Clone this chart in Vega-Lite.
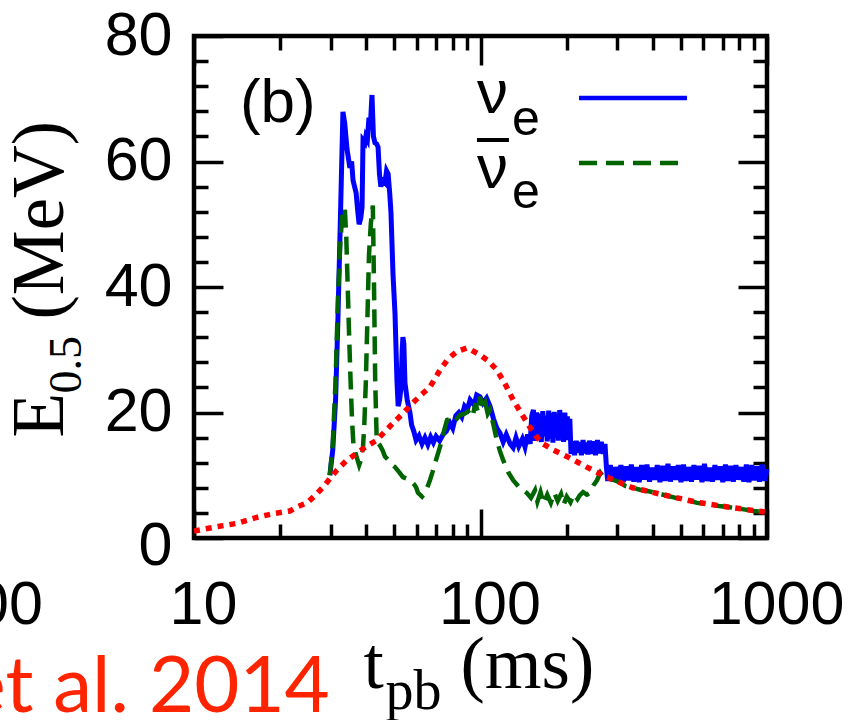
{
  "$schema": "https://vega.github.io/schema/vega-lite/v6.json",
  "width": 573,
  "height": 502,
  "autosize": {"type": "none"},
  "padding": {"left": 194, "top": 36, "right": 82, "bottom": 182},
  "background": "white",
  "config": {
    "view": {"stroke": "black", "strokeWidth": 4.5},
    "axis": {
      "domain": false, "grid": false, "tickColor": "black", "tickWidth": 3.5,
      "labelFont": "Liberation Sans", "labelFontSize": 61, "labelColor": "black",
      "titleFont": "Liberation Serif", "titleFontWeight": "normal", "titleColor": "black",
      "labelFlush": false, "labelOverlap": false, "labelBound": false
    }
  },
  "datasets": {
    "nue": [
      {"t": 29.8, "E": 10.0}, {"t": 30.5, "E": 14}, {"t": 31.2, "E": 22}, {"t": 31.8, "E": 35}, {"t": 32.4, "E": 50},
      {"t": 33.1, "E": 67.9}, {"t": 33.6, "E": 66}, {"t": 34.2, "E": 62}, {"t": 35.0, "E": 59}, {"t": 35.5, "E": 60},
      {"t": 35.9, "E": 57}, {"t": 36.8, "E": 55}, {"t": 37.3, "E": 52}, {"t": 37.7, "E": 50}, {"t": 38.2, "E": 51},
      {"t": 38.6, "E": 52.7}, {"t": 38.9, "E": 63.4}, {"t": 39.5, "E": 63}, {"t": 39.8, "E": 64}, {"t": 40.3, "E": 63.5},
      {"t": 40.8, "E": 67}, {"t": 41.3, "E": 66}, {"t": 41.8, "E": 70.6}, {"t": 42.3, "E": 64}, {"t": 42.8, "E": 63},
      {"t": 43.4, "E": 62.8}, {"t": 43.9, "E": 62.3}, {"t": 44.4, "E": 58}, {"t": 44.9, "E": 56}, {"t": 45.5, "E": 57},
      {"t": 46.4, "E": 56.6}, {"t": 47.0, "E": 58.5}, {"t": 47.6, "E": 58}, {"t": 48.2, "E": 55}, {"t": 48.7, "E": 51.8},
      {"t": 49.5, "E": 42}, {"t": 50.3, "E": 35.8}, {"t": 51.1, "E": 25}, {"t": 51.6, "E": 21}, {"t": 52.2, "E": 22},
      {"t": 52.8, "E": 24}, {"t": 53.3, "E": 30}, {"t": 53.6, "E": 32}, {"t": 54.0, "E": 31}, {"t": 54.5, "E": 24.7},
      {"t": 55.5, "E": 22}, {"t": 56.7, "E": 20}, {"t": 57.5, "E": 18}, {"t": 58.5, "E": 17}, {"t": 59.6, "E": 15.6},
      {"t": 61, "E": 16.3}, {"t": 62.5, "E": 15.0}, {"t": 64, "E": 16.0}, {"t": 65.5, "E": 14.9}, {"t": 67, "E": 16.1},
      {"t": 68.5, "E": 15.2}, {"t": 70, "E": 16.2}, {"t": 72, "E": 15.5}, {"t": 74, "E": 16.5}, {"t": 76, "E": 17},
      {"t": 78.3, "E": 18.3}, {"t": 80, "E": 17.5}, {"t": 82, "E": 19.5}, {"t": 84, "E": 20}, {"t": 86, "E": 19.3},
      {"t": 88, "E": 21}, {"t": 90, "E": 20.5}, {"t": 92, "E": 22}, {"t": 95, "E": 21.2}, {"t": 97, "E": 22.8},
      {"t": 99.6, "E": 22.5}, {"t": 102, "E": 21.5}, {"t": 105, "E": 22.3}, {"t": 108, "E": 21}, {"t": 111, "E": 19},
      {"t": 114, "E": 17.5}, {"t": 117, "E": 16.7}, {"t": 120, "E": 15.3}, {"t": 123, "E": 16.5}, {"t": 127, "E": 15.0},
      {"t": 130, "E": 14.4}, {"t": 133, "E": 16.0}, {"t": 136, "E": 14.6}, {"t": 140, "E": 15.8}, {"t": 143, "E": 14.5},
      {"t": 146, "E": 16.5}, {"t": 149, "E": 15.0}, {"t": 151, "E": 19.5}, {"t": 153, "E": 20.4}, {"t": 155, "E": 15.5},
      {"t": 157, "E": 20.0}, {"t": 159, "E": 16.0}, {"t": 161, "E": 19.8}, {"t": 163, "E": 15.3}, {"t": 165, "E": 20.2},
      {"t": 167, "E": 16.2}, {"t": 169, "E": 19.5}, {"t": 171, "E": 15.4}, {"t": 173, "E": 20.3}, {"t": 175, "E": 15.8},
      {"t": 177, "E": 19.9}, {"t": 179, "E": 15.2}, {"t": 181, "E": 20.1}, {"t": 183, "E": 16.1}, {"t": 185, "E": 19.6},
      {"t": 187, "E": 15.5}, {"t": 189, "E": 20.4}, {"t": 191, "E": 15.9}, {"t": 193, "E": 19.7}, {"t": 195, "E": 15.3},
      {"t": 197, "E": 20.0}, {"t": 199, "E": 16.0}, {"t": 201, "E": 19.4}, {"t": 203, "E": 15.6}, {"t": 205, "E": 19.0},
      {"t": 207, "E": 13.4}, {"t": 210, "E": 15.4}, {"t": 213, "E": 13.2}, {"t": 216, "E": 15.5}, {"t": 219, "E": 13.6},
      {"t": 222, "E": 15.3}, {"t": 225, "E": 13.2}, {"t": 228, "E": 15.6}, {"t": 231, "E": 13.5}, {"t": 234, "E": 15.2},
      {"t": 237, "E": 13.3}, {"t": 240, "E": 15.5}, {"t": 244, "E": 13.4}, {"t": 248, "E": 15.4}, {"t": 252, "E": 13.2},
      {"t": 256, "E": 15.6}, {"t": 260, "E": 13.5}, {"t": 264, "E": 15.3}, {"t": 268, "E": 13.4}, {"t": 272, "E": 15.0},
      {"t": 275, "E": 11.4}, {"t": 278, "E": 9.1}, {"t": 284, "E": 11.6}, {"t": 290, "E": 9.0}, {"t": 296, "E": 11.3},
      {"t": 302, "E": 9.3}, {"t": 309, "E": 11.6}, {"t": 315, "E": 8.9}, {"t": 322, "E": 11.4}, {"t": 329, "E": 9.2},
      {"t": 336, "E": 11.7}, {"t": 343, "E": 9.0}, {"t": 350, "E": 11.3}, {"t": 358, "E": 8.9}, {"t": 365, "E": 11.6},
      {"t": 373, "E": 9.3}, {"t": 381, "E": 11.7}, {"t": 389, "E": 9.0}, {"t": 397, "E": 11.2}, {"t": 406, "E": 9.3},
      {"t": 414, "E": 11.6}, {"t": 423, "E": 8.9}, {"t": 432, "E": 11.5}, {"t": 441, "E": 9.1}, {"t": 451, "E": 11.8},
      {"t": 460, "E": 9.0}, {"t": 470, "E": 11.4}, {"t": 480, "E": 9.3}, {"t": 490, "E": 11.6}, {"t": 501, "E": 8.9},
      {"t": 511, "E": 11.7}, {"t": 522, "E": 9.1}, {"t": 533, "E": 11.3}, {"t": 545, "E": 9.0}, {"t": 556, "E": 11.6},
      {"t": 568, "E": 9.3}, {"t": 580, "E": 11.5}, {"t": 593, "E": 8.9}, {"t": 605, "E": 11.8}, {"t": 618, "E": 9.1},
      {"t": 631, "E": 11.2}, {"t": 645, "E": 9.0}, {"t": 658, "E": 11.6}, {"t": 672, "E": 9.3}, {"t": 687, "E": 11.4},
      {"t": 701, "E": 8.9}, {"t": 716, "E": 11.7}, {"t": 731, "E": 9.1}, {"t": 747, "E": 11.5}, {"t": 763, "E": 9.0},
      {"t": 779, "E": 11.6}, {"t": 796, "E": 9.3}, {"t": 813, "E": 11.3}, {"t": 830, "E": 9.0}, {"t": 847, "E": 11.7},
      {"t": 865, "E": 8.9}, {"t": 884, "E": 11.6}, {"t": 902, "E": 9.2}, {"t": 922, "E": 11.4}, {"t": 941, "E": 9.0},
      {"t": 961, "E": 11.7}, {"t": 982, "E": 9.1}, {"t": 1000, "E": 11.0}
    ],
    "nuebar": [
      {"t": 29.8, "E": 10}, {"t": 30.5, "E": 15}, {"t": 31.2, "E": 25}, {"t": 31.8, "E": 38}, {"t": 32.4, "E": 47},
      {"t": 33.0, "E": 52}, {"t": 33.6, "E": 52.6}, {"t": 34.0, "E": 48}, {"t": 34.4, "E": 40}, {"t": 34.8, "E": 32},
      {"t": 35.2, "E": 25}, {"t": 35.6, "E": 19}, {"t": 36.0, "E": 15}, {"t": 36.6, "E": 13.5}, {"t": 37.2, "E": 12.5},
      {"t": 37.7, "E": 11.6}, {"t": 38.3, "E": 12.5}, {"t": 38.9, "E": 14.5}, {"t": 39.3, "E": 18}, {"t": 39.8, "E": 25},
      {"t": 40.3, "E": 35}, {"t": 40.8, "E": 45}, {"t": 41.4, "E": 50}, {"t": 42.1, "E": 53}, {"t": 42.5, "E": 40},
      {"t": 42.9, "E": 25}, {"t": 43.4, "E": 16}, {"t": 43.9, "E": 15.1}, {"t": 44.5, "E": 14.8}, {"t": 45.5, "E": 14},
      {"t": 46.4, "E": 13}, {"t": 47.5, "E": 12.5}, {"t": 48.7, "E": 11.8}, {"t": 50.3, "E": 11.3}, {"t": 52, "E": 10.5},
      {"t": 53.6, "E": 9.7}, {"t": 55, "E": 9.5}, {"t": 56.7, "E": 9.2}, {"t": 58.5, "E": 8.6}, {"t": 59.6, "E": 8.1},
      {"t": 60.5, "E": 7.2}, {"t": 61.5, "E": 6.9}, {"t": 62.5, "E": 6.6}, {"t": 64, "E": 7.2}, {"t": 65.5, "E": 8.3},
      {"t": 66.6, "E": 9.2}, {"t": 68, "E": 10.5}, {"t": 70, "E": 12.5}, {"t": 72.2, "E": 14.5}, {"t": 74, "E": 16.5},
      {"t": 76.4, "E": 18.8}, {"t": 79, "E": 19}, {"t": 81, "E": 18.5}, {"t": 84.8, "E": 19.6}, {"t": 88, "E": 19.8},
      {"t": 91.9, "E": 20.4}, {"t": 94, "E": 19.5}, {"t": 96, "E": 21.5}, {"t": 98, "E": 20}, {"t": 99.6, "E": 22.5},
      {"t": 102, "E": 20.5}, {"t": 104, "E": 21.5}, {"t": 106, "E": 19.8}, {"t": 108, "E": 20.4}, {"t": 111, "E": 18},
      {"t": 114, "E": 15.6}, {"t": 117, "E": 13.8}, {"t": 120, "E": 12.4}, {"t": 125, "E": 10.5}, {"t": 130, "E": 9.2},
      {"t": 137, "E": 8.0}, {"t": 145, "E": 7.2}, {"t": 150, "E": 6.4}, {"t": 155, "E": 7.6}, {"t": 158, "E": 5.8},
      {"t": 162, "E": 7.3}, {"t": 166, "E": 5.5}, {"t": 171, "E": 6.9}, {"t": 176, "E": 5.6}, {"t": 181, "E": 7.2},
      {"t": 186, "E": 5.9}, {"t": 191, "E": 7.0}, {"t": 195, "E": 5.3}, {"t": 200, "E": 6.6}, {"t": 206, "E": 5.7},
      {"t": 212, "E": 7.0}, {"t": 218, "E": 6.2}, {"t": 222, "E": 6.8}, {"t": 228, "E": 7.3}, {"t": 235, "E": 6.9},
      {"t": 241, "E": 7.2}, {"t": 248, "E": 8.4}, {"t": 255, "E": 9.2}, {"t": 262, "E": 10.4}, {"t": 268, "E": 9.8},
      {"t": 276, "E": 9.5}, {"t": 290, "E": 9.3}, {"t": 305, "E": 8.9}, {"t": 320, "E": 8.3}, {"t": 333, "E": 8.1},
      {"t": 360, "E": 7.7}, {"t": 390, "E": 7.4}, {"t": 434, "E": 6.9}, {"t": 480, "E": 6.4}, {"t": 530, "E": 6.0},
      {"t": 570, "E": 5.6}, {"t": 620, "E": 5.4}, {"t": 680, "E": 5.1}, {"t": 740, "E": 4.9}, {"t": 820, "E": 4.6},
      {"t": 900, "E": 4.3}, {"t": 1000, "E": 4.1}
    ],
    "model": [
      {"t": 10, "E": 1.1}, {"t": 12, "E": 1.8}, {"t": 14, "E": 2.3}, {"t": 16.6, "E": 3.3}, {"t": 19, "E": 3.9},
      {"t": 21.6, "E": 4.3}, {"t": 23, "E": 5.0}, {"t": 24.8, "E": 5.6}, {"t": 26.5, "E": 6.8}, {"t": 28.2, "E": 8.1},
      {"t": 30, "E": 9.6}, {"t": 31.5, "E": 10.8}, {"t": 34, "E": 12.3}, {"t": 37, "E": 13.5}, {"t": 40, "E": 14.6},
      {"t": 43.5, "E": 15.6}, {"t": 46, "E": 16.8}, {"t": 49.5, "E": 18.3}, {"t": 54, "E": 20}, {"t": 58, "E": 21.5},
      {"t": 62, "E": 22.8}, {"t": 66.5, "E": 24}, {"t": 72.3, "E": 26.8}, {"t": 77, "E": 28.5}, {"t": 82.5, "E": 29.7},
      {"t": 90, "E": 30.3}, {"t": 99.5, "E": 29.2}, {"t": 106, "E": 28.3}, {"t": 114, "E": 26.8}, {"t": 122, "E": 24.5},
      {"t": 130, "E": 22}, {"t": 139, "E": 19.8}, {"t": 148.5, "E": 17.7}, {"t": 156, "E": 16.3}, {"t": 164, "E": 15.1},
      {"t": 180, "E": 14.0}, {"t": 200, "E": 13.0}, {"t": 235, "E": 11.3}, {"t": 276, "E": 9.7}, {"t": 340, "E": 8.0},
      {"t": 433, "E": 6.9}, {"t": 570, "E": 5.7}, {"t": 740, "E": 4.9}, {"t": 1000, "E": 4.1}
    ]
  },
  "resolve": {"axis": {"x": "independent", "y": "independent"}},
  "layer": [
    {
      "data": {"name": "nue"},
      "mark": {"type": "line", "color": "#0000ff", "strokeWidth": 5, "strokeJoin": "miter"},
      "encoding": {
        "x": {"field": "t", "type": "quantitative", "scale": {"type": "log", "domain": [10, 1000], "nice": false},
          "axis": {"orient": "bottom", "values": [10, 100, 1000], "format": "d",
            "tickSize": -29, "labelPadding": 66, "labelOffset": 9,
            "title": "t", "titleFontSize": 73, "titleAngle": 0, "titleAlign": "left", "titleBaseline": "alphabetic",
            "titleX": 169, "titleY": 149}},
        "y": {"field": "E", "type": "quantitative", "scale": {"domain": [0, 80], "nice": false, "zero": false},
          "axis": {"orient": "left", "values": [0, 20, 40, 60, 80], "tickSize": -29, "labelPadding": 51,
            "labelOffset": {"condition": {"test": "datum.value == 0", "value": 8}, "value": 0},
            "title": "E", "titleFontSize": 73, "titleAngle": 270, "titleAlign": "left", "titleBaseline": "alphabetic",
            "titleX": -132, "titleY": 401}}
      }
    },
    {
      "data": {"name": "nuebar"},
      "mark": {"type": "line", "color": "#006400", "strokeWidth": 4.5, "strokeDash": [18, 9]},
      "encoding": {
        "x": {"field": "t", "type": "quantitative", "scale": {"type": "log", "domain": [10, 1000], "nice": false},
          "axis": {"orient": "bottom", "values": [20, 30, 40, 50, 60, 70, 80, 90, 200, 300, 400, 500, 600, 700, 800, 900],
            "tickSize": -14, "labels": false,
            "title": "pb", "titleFontSize": 56, "titleAngle": 0, "titleAlign": "left", "titleBaseline": "alphabetic",
            "titleX": 191, "titleY": 170}},
        "y": {"field": "E", "type": "quantitative", "scale": {"domain": [0, 80], "nice": false, "zero": false},
          "axis": {"orient": "left", "values": [4, 8, 12, 16, 24, 28, 32, 36, 44, 48, 52, 56, 64, 68, 72, 76],
            "tickSize": -14, "labels": false,
            "title": "0.5", "titleFontSize": 46, "titleAngle": 270, "titleAlign": "left", "titleBaseline": "alphabetic",
            "titleX": -114, "titleY": 357}}
      }
    },
    {
      "data": {"name": "model"},
      "mark": {"type": "line", "color": "#ff0000", "strokeWidth": 5.5, "strokeDash": [6, 6]},
      "encoding": {
        "x": {"field": "t", "type": "quantitative", "scale": {"type": "log", "domain": [10, 1000], "nice": false},
          "axis": {"orient": "top", "values": [10, 100, 1000], "tickSize": -29, "labels": false,
            "title": "(ms)", "titleFontSize": 73, "titleAngle": 0, "titleAlign": "left", "titleBaseline": "alphabetic",
            "titleX": 266, "titleY": 651}},
        "y": {"field": "E", "type": "quantitative", "scale": {"domain": [0, 80], "nice": false, "zero": false},
          "axis": {"orient": "right", "values": [0, 20, 40, 60, 80], "tickSize": -29, "labels": false,
            "title": "(MeV)", "titleFontSize": 73, "titleAngle": 270, "titleAlign": "left", "titleBaseline": "alphabetic",
            "titleX": -705, "titleY": 283}}
      }
    },
    {
      "data": {"values": [{}]},
      "mark": {"type": "rule", "color": "#0000ff", "strokeWidth": 4.5},
      "encoding": {
        "x": {"datum": 220.7, "type": "quantitative", "scale": {"type": "log", "domain": [10, 1000], "nice": false},
          "axis": {"orient": "top", "values": [20, 30, 40, 50, 60, 70, 80, 90, 200, 300, 400, 500, 600, 700, 800, 900],
            "tickSize": -14, "labels": false, "title": null}},
        "x2": {"datum": 525.8},
        "y": {"datum": 70.12, "type": "quantitative", "scale": {"domain": [0, 80], "nice": false, "zero": false},
          "axis": {"orient": "right", "values": [4, 8, 12, 16, 24, 28, 32, 36, 44, 48, 52, 56, 64, 68, 72, 76],
            "tickSize": -14, "labels": false, "title": null}}
      }
    },
    {
      "data": {"values": [{}]},
      "mark": {"type": "rule", "color": "#006400", "strokeWidth": 4.5, "strokeDash": [18, 9]},
      "encoding": {
        "x": {"datum": 220.7, "type": "quantitative", "axis": null},
        "x2": {"datum": 525.8},
        "y": {"datum": 59.76, "type": "quantitative", "axis": null}
      }
    },
    {
      "data": {"values": [{}]},
      "mark": {"type": "rule", "color": "black", "strokeWidth": 4},
      "encoding": {
        "x": {"datum": 97.2, "type": "quantitative", "axis": null},
        "x2": {"datum": 125.7},
        "y": {"datum": 63.43, "type": "quantitative", "axis": null}
      }
    },
    {
      "data": {"values": [{}]},
      "mark": {"type": "text", "text": "(b)", "font": "Liberation Sans", "fontSize": 62, "align": "left", "baseline": "alphabetic", "color": "black"},
      "encoding": {
        "x": {"datum": 14.47, "type": "quantitative", "axis": null},
        "y": {"datum": 66.3, "type": "quantitative", "axis": null}
      }
    },
    {
      "data": {"values": [{}]},
      "mark": {"type": "text", "text": "ν", "font": "Liberation Sans", "fontSize": 62, "align": "left", "baseline": "alphabetic", "color": "black"},
      "encoding": {
        "x": {"datum": 97.2, "type": "quantitative", "axis": null},
        "y": {"datum": 67.73, "type": "quantitative", "axis": null}
      }
    },
    {
      "data": {"values": [{}]},
      "mark": {"type": "text", "text": "e", "font": "Liberation Sans", "fontSize": 50, "align": "left", "baseline": "alphabetic", "color": "black"},
      "encoding": {
        "x": {"datum": 128.8, "type": "quantitative", "axis": null},
        "y": {"datum": 64.22, "type": "quantitative", "axis": null}
      }
    },
    {
      "data": {"values": [{}]},
      "mark": {"type": "text", "text": "ν", "font": "Liberation Sans", "fontSize": 62, "align": "left", "baseline": "alphabetic", "color": "black"},
      "encoding": {
        "x": {"datum": 97.2, "type": "quantitative", "axis": null},
        "y": {"datum": 55.78, "type": "quantitative", "axis": null}
      }
    },
    {
      "data": {"values": [{}]},
      "mark": {"type": "text", "text": "e", "font": "Liberation Sans", "fontSize": 50, "align": "left", "baseline": "alphabetic", "color": "black"},
      "encoding": {
        "x": {"datum": 128.8, "type": "quantitative", "axis": null},
        "y": {"datum": 52.59, "type": "quantitative", "axis": null}
      }
    },
    {
      "data": {"values": [{}]},
      "mark": {"type": "text", "text": "100", "font": "Liberation Sans", "fontSize": 61, "align": "center", "baseline": "alphabetic", "color": "black"},
      "encoding": {
        "x": {"datum": 1.972, "type": "quantitative", "axis": null},
        "y": {"datum": -13.66, "type": "quantitative", "axis": null}
      }
    },
    {
      "data": {"values": [{}]},
      "mark": {"type": "text", "text": "et al. 2014", "font": "Lato", "fontSize": 78, "align": "right", "baseline": "alphabetic", "color": "#ff2400"},
      "encoding": {
        "x": {"datum": 29.8, "type": "quantitative", "axis": null},
        "y": {"datum": -27.7, "type": "quantitative", "axis": null}
      }
    }
  ]
}
